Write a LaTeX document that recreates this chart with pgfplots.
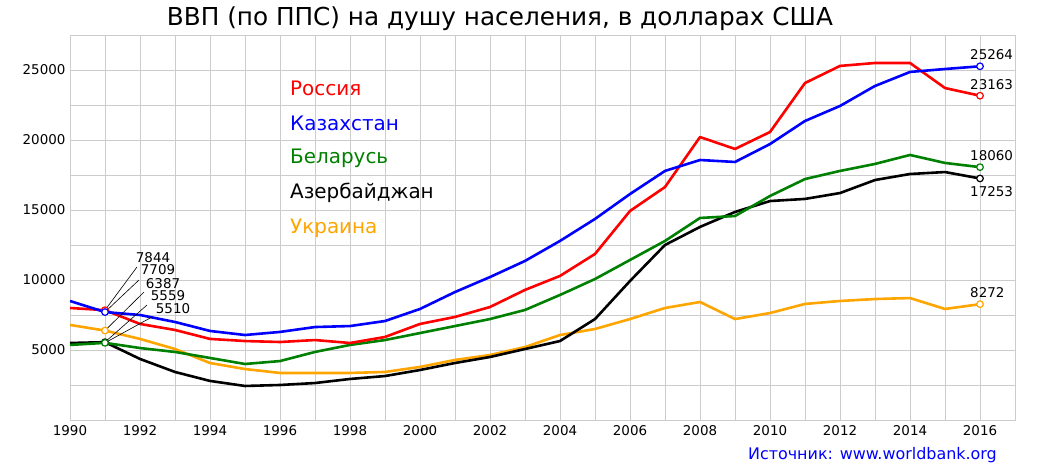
\documentclass[border=0pt]{standalone}
\usepackage{fontspec}
\setmainfont{DejaVu Sans}
\usepackage{pgfplots}
\usepackage{pgfplotstable}
\pgfplotsset{compat=1.18}
\definecolor{gridgray}{RGB}{204,204,204}
\definecolor{dgreen}{RGB}{0,128,0}
\definecolor{orng}{RGB}{255,165,0}
\pgfplotstableread{
year rus kaz blr aze ukr
1990 8000 8500 5360 5500 6790
1991 7844 7709 5510 5559 6387
1992 6860 7500 5140 4360 5790
1993 6430 7000 4860 3430 5070
1994 5790 6360 4430 2790 4070
1995 5640 6070 4000 2430 3640
1996 5570 6290 4210 2500 3360
1997 5710 6640 4860 2640 3360
1998 5500 6710 5360 2930 3360
1999 5930 7070 5710 3140 3430
2000 6860 7930 6210 3570 3790
2001 7360 9140 6710 4070 4290
2002 8070 10210 7210 4500 4640
2003 9290 11360 7860 5070 5210
2004 10290 12790 8930 5640 6070
2005 11860 14360 10070 7210 6500
2006 14930 16140 11430 9930 7210
2007 16640 17790 12790 12500 8000
2008 20210 18570 14430 13790 8430
2009 19360 18430 14570 14860 7210
2010 20570 19710 16000 15640 7640
2011 24070 21360 17210 15790 8290
2012 25290 22430 17790 16210 8500
2013 25500 23860 18290 17140 8640
2014 25500 24860 18930 17570 8710
2015 23710 25070 18360 17710 7930
2016 23163 25264 18060 17253 8272
}\data
\begin{document}
\begin{tikzpicture}[x=1bp,y=1bp]
\path[use as bounding box] (-70,-45) rectangle (980,420);
\begin{axis}[at={(0,0)}, anchor=south west, scale only axis,
  width=945bp, height=385bp,
  xmin=1990, xmax=2017, ymin=0, ymax=27500,
  xtick={1990,1992,...,2016}, minor xtick={1991,1993,...,2017},
  ytick={5000,10000,...,25000}, minor ytick={0,2500,...,27500},
  scaled ticks=false,
  grid=both, grid style={gridgray, line width=0.8bp},
  minor grid style={gridgray, line width=0.8bp},
  axis line style={gridgray, line width=0.8bp},
  major tick length=0pt, minor tick length=0pt,
  /pgf/number format/1000 sep={}, /pgf/number format/assume math mode=true,
  tick label style={font=\fontsize{13.5}{14}\selectfont},
  xticklabel style={yshift=-2bp},
  yticklabel style={xshift=-1bp},
  every axis plot/.append style={line join=round},
]
\addplot[orng, line width=2.6bp] table[x=year,y=ukr]{\data};
\addplot[black, line width=2.6bp] table[x=year,y=aze]{\data};
\addplot[dgreen, line width=2.6bp] table[x=year,y=blr]{\data};
\addplot[red, line width=2.6bp] table[x=year,y=rus]{\data};
\addplot[blue, line width=2.6bp] table[x=year,y=kaz]{\data};

\draw[black, line width=0.6bp] (axis cs:1991,7844) -- (axis cs:1991.914,10929);
\draw[black, line width=0.6bp] (axis cs:1991,7709) -- (axis cs:1991.971,10000);
\draw[black, line width=0.6bp] (axis cs:1991,6387) -- (axis cs:1992.114,9143);
\draw[black, line width=0.6bp] (axis cs:1991,5559) -- (axis cs:1992.2,8214);
\draw[black, line width=0.6bp] (axis cs:1991,5510) -- (axis cs:1992.343,7357);
\begin{scope}[every node/.style={anchor=base west, inner sep=0pt, font=\fontsize{13.5}{14}\selectfont}]
\node at (axis cs:1991.877,11264) {7844};
\node at (axis cs:1992.020,10357) {7709};
\node at (axis cs:1992.163,9407) {6387};
\node at (axis cs:1992.306,8500) {5559};
\node at (axis cs:1992.449,7571) {5510};
\end{scope}

\addplot[orng, only marks, mark=*, mark size=3.3bp, mark options={fill=white, line width=1.2bp}] coordinates {(1991,6387) (2016,8272)};
\addplot[black, only marks, mark=*, mark size=3.3bp, mark options={fill=white, line width=1.2bp}] coordinates {(1991,5559) (2016,17253)};
\addplot[dgreen, only marks, mark=*, mark size=3.3bp, mark options={fill=white, line width=1.2bp}] coordinates {(1991,5510) (2016,18060)};
\addplot[red, only marks, mark=*, mark size=3.3bp, mark options={fill=white, line width=1.2bp}] coordinates {(1991,7844) (2016,23163)};
\addplot[blue, only marks, mark=*, mark size=3.3bp, mark options={fill=white, line width=1.2bp}] coordinates {(1991,7709) (2016,25264)};

\begin{scope}[every node/.style={anchor=base west, inner sep=0pt, font=\fontsize{13.5}{14}\selectfont, xshift=-10bp}]
\node[yshift=7bp] at (axis cs:2016,25264) {25264};
\node[yshift=6bp] at (axis cs:2016,23163) {23163};
\node[yshift=7bp] at (axis cs:2016,18060) {18060};
\node[yshift=-18bp] at (axis cs:2016,17253) {17253};
\node[yshift=7bp] at (axis cs:2016,8272) {8272};
\end{scope}
\end{axis}
\begin{scope}[font=\fontsize{20}{20}\selectfont]
\node[anchor=west, inner sep=0pt, red] at (220,332) {Россия};
\node[anchor=west, inner sep=0pt, blue] at (220,297) {Казахстан};
\node[anchor=west, inner sep=0pt, dgreen] at (220,262) {Беларусь};
\node[anchor=west, inner sep=0pt, black] at (220,227) {Азербайджан};
\node[anchor=west, inner sep=0pt, orng] at (220,192) {Украина};
\end{scope}
\node[font=\fontsize{24.8}{25}\selectfont, inner sep=0pt] at (430,401) {ВВП (по ППС) на душу населения, в долларах США};
\node[anchor=east, inner sep=0pt, blue, font=\fontsize{16}{16}\selectfont] at (927,-35) {Источник: www.worldbank.org};
\end{tikzpicture}
\end{document}
